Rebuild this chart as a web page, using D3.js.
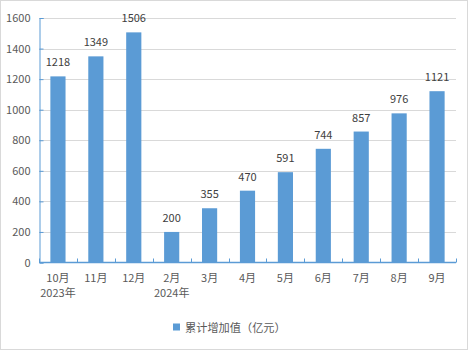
<!DOCTYPE html>
<html><head><meta charset="utf-8">
<script src="https://cdn.jsdelivr.net/npm/d3@7"></script>
<style>body{margin:0;background:#fff}svg{display:block}</style>
</head><body>
<script>
const months = ["10月","11月","12月","2月","3月","4月","5月","6月","7月","8月","9月"];
const yearLabels = ["2023年","","","2024年","","","","","","",""];
const values = [1218,1349,1506,200,355,470,591,744,857,976,1121];
const yTicks = [0,200,400,600,800,1000,1200,1400,1600];
const legendLabel = "累计增加值（亿元）";

const W=468,H=350;
const font='"Noto Sans CJK SC","Microsoft YaHei",sans-serif';
const svg=d3.select("body").append("svg").attr("width",W).attr("height",H);
svg.append("rect").attr("x",0.5).attr("y",0.5).attr("width",W-1).attr("height",H-1)
  .attr("fill","#fff").attr("stroke","#d9d9d9");

const L=39,R=456,T=18,B=262.5;
const x=d3.scaleBand().domain(months.map((m,i)=>i)).range([L,R]).paddingInner(0.6).paddingOuter(0.3);
const xb=d3.scaleBand().domain(months.map((m,i)=>i)).range([L,R]);
const y=d3.scaleLinear().domain([0,1600]).range([B,T]);

// gridlines
svg.append("g").selectAll("line").data(yTicks.filter(d=>d>0)).join("line")
  .attr("x1",L).attr("x2",R).attr("y1",d=>Math.round(y(d))+0.5).attr("y2",d=>Math.round(y(d))+0.5)
  .attr("stroke","#d9d9d9");

// bars
svg.append("g").selectAll("rect").data(values).join("rect")
  .attr("x",(d,i)=>x(i)).attr("width",x.bandwidth())
  .attr("y",d=>y(d)).attr("height",d=>B-y(d)).attr("fill","#5b9bd5");

// value labels
svg.append("g").selectAll("text").data(values).join("text")
  .attr("x",(d,i)=>xb(i)+xb.bandwidth()/2).attr("y",d=>y(d)-10)
  .attr("text-anchor","middle").attr("font-family",font).attr("font-size",11)
  .attr("fill","#404040").text(d=>d);

// y axis
const yAxis=d3.axisLeft(y).tickValues(yTicks).tickFormat(d3.format("d")).tickSize(-4).tickPadding(9);
const gy=svg.append("g").attr("transform",`translate(${L+0.5},0)`).call(yAxis);
gy.select(".domain").attr("stroke","#5b9bd5");
gy.selectAll(".tick line").attr("stroke","#5b9bd5");
gy.selectAll("text").attr("font-family",font).attr("font-size",11).attr("fill","#595959");

// x axis
const gx=svg.append("g").attr("transform",`translate(0,${B})`);
gx.append("line").attr("x1",L).attr("x2",R).attr("y1",0).attr("y2",0).attr("stroke","#5b9bd5").attr("stroke-width",1.5);
gx.selectAll("line.tk").data(d3.range(months.length+1)).join("line").attr("class","tk")
  .attr("x1",i=>Math.round(L+i*xb.step())+0.5).attr("x2",i=>Math.round(L+i*xb.step())+0.5)
  .attr("y1",0).attr("y2",-4).attr("stroke","#5b9bd5");
gx.selectAll("text.m").data(months).join("text").attr("class","m")
  .attr("x",(d,i)=>xb(i)+xb.bandwidth()/2).attr("y",19)
  .attr("text-anchor","middle").attr("font-family",font).attr("font-size",11).attr("fill","#595959").text(d=>d);
gx.selectAll("text.yr").data(yearLabels).join("text").attr("class","yr")
  .attr("x",(d,i)=>xb(i)+xb.bandwidth()/2).attr("y",34)
  .attr("text-anchor","middle").attr("font-family",font).attr("font-size",11).attr("fill","#595959").text(d=>d);

// legend
const lg=svg.append("g");
lg.append("rect").attr("x",173).attr("y",323.5).attr("width",7).attr("height",7).attr("fill","#5b9bd5");
lg.append("text").attr("x",185).attr("y",331.5).attr("font-family",font).attr("font-size",11.2)
  .attr("fill","#595959").text(legendLabel);
</script>
</body></html>
